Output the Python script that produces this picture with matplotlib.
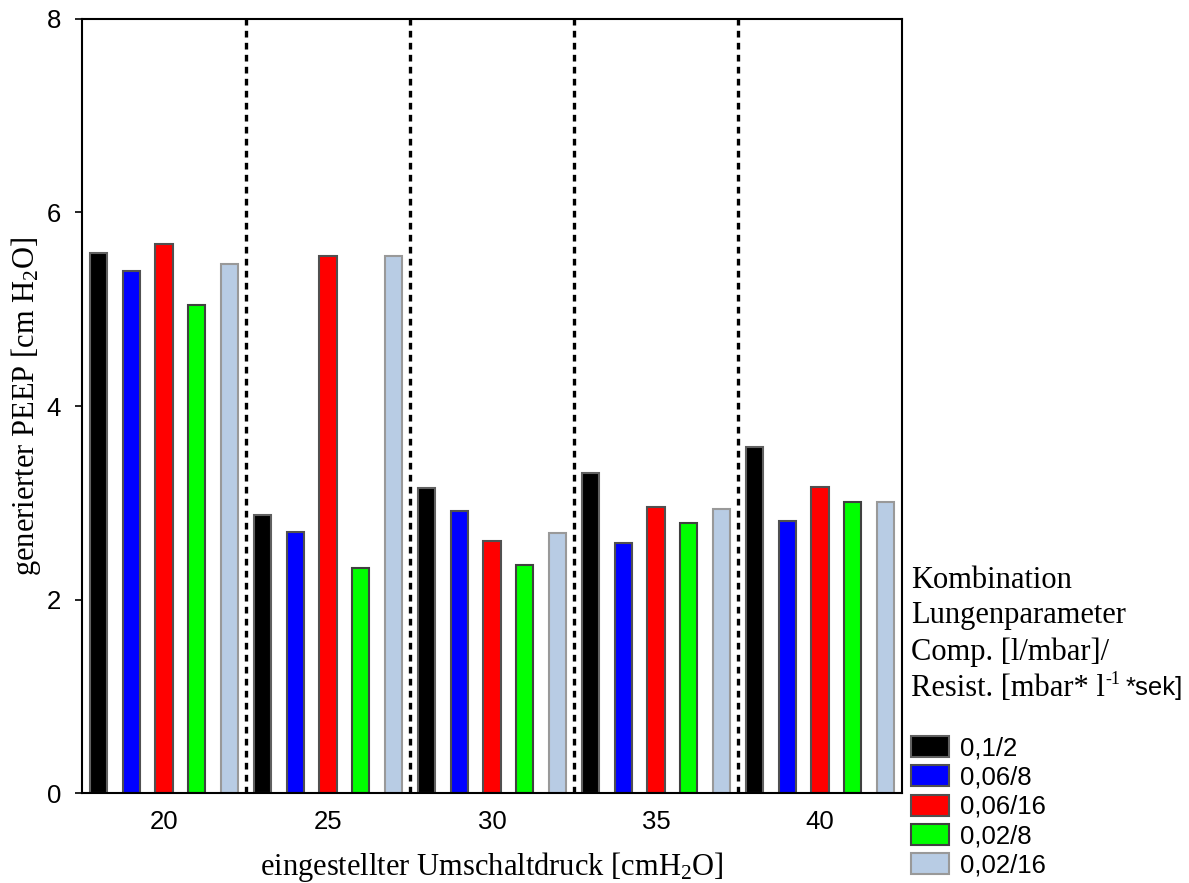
import matplotlib
matplotlib.use('Agg')
import matplotlib.pyplot as plt
import numpy as np
from matplotlib.patches import Patch

# Umschaltdruck groups and lung parameter combinations
pressures = ['20', '25', '30', '35', '40']
combos = ['0,1/2', '0,06/8', '0,06/16', '0,02/8', '0,02/16']
peep_01_2 = [5.58, 2.87, 3.15, 3.31, 3.58]
peep_006_8 = [5.40, 2.70, 2.91, 2.58, 2.81]
peep_006_16 = [5.67, 5.55, 2.60, 2.96, 3.16]
peep_002_8 = [5.04, 2.33, 2.36, 2.79, 3.01]
peep_002_16 = [5.47, 5.55, 2.69, 2.94, 3.01]

series = [peep_01_2, peep_006_8, peep_006_16, peep_002_8, peep_002_16]
colors = ['#000000', '#0000ff', '#ff0000', '#00ff00', '#b8cce4']
edges = ['#606060', '#505050', '#505050', '#404040', '#999999']

serif = 'Liberation Serif'
sans = 'Liberation Sans'
plt.rcParams['mathtext.fontset'] = 'custom'
plt.rcParams['mathtext.rm'] = serif
plt.rcParams['mathtext.it'] = serif

fig = plt.figure(figsize=(11.89, 8.83), dpi=100)
ax = fig.add_axes([0.069, 0.1019, 0.6896, 0.8766])

x = np.arange(len(pressures))
for i, vals in enumerate(series):
    ax.bar(x + (i - 2) * 0.2, vals, width=0.105, color=colors[i],
           edgecolor=edges[i], linewidth=1.5, zorder=2)

# dotted separators between pressure groups
for sep in x[:-1] + 0.5:
    ax.axvline(sep, color='black', linestyle=(0, (2, 1.6)), linewidth=2.4, zorder=3)

ax.set_xlim(-0.5, 4.5)
ax.set_ylim(0, 8)
ax.set_xticks(x)
ax.set_xticklabels(pressures, fontfamily=sans, fontsize=18.5)
ax.set_yticks([0, 2, 4, 6, 8])
ax.set_yticklabels(['0', '2', '4', '6', '8'], fontfamily=sans, fontsize=18.5)
ax.tick_params(axis='x', length=0, pad=12)
ax.tick_params(axis='y', length=5, width=1.2, direction='out', pad=10)
for sp in ax.spines.values():
    sp.set_linewidth(1.5)

ax.set_xlabel('eingestellter Umschaltdruck [cmH$_2$O]', fontfamily=serif, fontsize=22, labelpad=12)
ax.set_ylabel('generierter PEEP [cm H$_2$O]', fontfamily=serif, fontsize=22, labelpad=3)

# legend heading
tx = 0.766
fs_head = 22
fig.text(tx, 1 - 580 / 883, 'Kombination', fontfamily=serif, fontsize=fs_head, va='center')
fig.text(tx, 1 - 615 / 883, 'Lungenparameter', fontfamily=serif, fontsize=fs_head, va='center')
fig.text(tx, 1 - 652 / 883, 'Comp. [l/mbar]/', fontfamily=serif, fontsize=fs_head, va='center')
t = fig.text(tx, 1 - 689 / 883, 'Resist. [mbar* l', fontfamily=serif, fontsize=fs_head, va='center')
fig.canvas.draw()
bb = t.get_window_extent()
t2 = fig.text(bb.x1 / fig.bbox.width + 0.001, 1 - 679 / 883, '-1', fontfamily=serif, fontsize=13, va='center')
bb2 = t2.get_window_extent()
fig.text(bb2.x1 / fig.bbox.width + 0.004, 1 - 688 / 883, '*sek]', fontfamily=sans, fontsize=18.5, va='center')

handles = [Patch(facecolor=c, edgecolor=e, linewidth=1.5) for c, e in zip(colors, edges)]
fig.legend(handles, combos, loc='upper left', bbox_to_anchor=(0.766, 1 - 736 / 883),
           frameon=False, prop={'family': sans, 'size': 18.5},
           handlelength=1.5, handleheight=0.88, labelspacing=0.19, handletextpad=0.4,
           borderpad=0.0, borderaxespad=0)

fig.savefig('out.png', dpi=100)
